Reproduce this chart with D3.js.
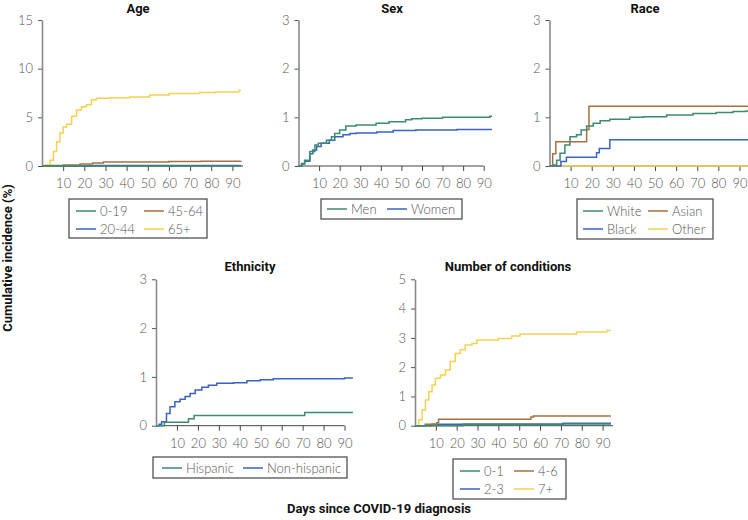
<!DOCTYPE html>
<html>
<head>
<meta charset="utf-8">
<script src="https://cdn.jsdelivr.net/npm/d3@7"></script>
<style>
  body { margin: 0; background: #fff; }
  svg { display: block; }
  .tick text { font-family: Lato, sans-serif; font-weight: 300; font-size: 13px; fill: #555; }
  .title { font-family: Roboto, sans-serif; font-weight: 700; font-size: 13px; fill: #111; }
  .legend text { font-family: Lato, sans-serif; font-weight: 300; font-size: 13px; fill: #555; }
</style>
</head>
<body>
<svg id="chart" width="748" height="520"></svg>
<script>
// ---- data: [day, cumulative incidence %] step points ----
const age0_19  = [[0, 0], [94, 0]];
const age20_44 = [[0, 0], [6, 0.03], [25, 0.05], [94, 0.05]];
const age45_64 = [[0, 0], [4, 0.05], [10, 0.1], [18, 0.2], [24, 0.3], [29, 0.4], [60, 0.45], [75, 0.5], [94, 0.52]];
const age65    = [[0, 0], [1.5, 0.1], [3.8, 0.6], [5.4, 1.5], [6.9, 2.5], [8.5, 3.4], [10, 4.0], [11.6, 4.3], [14, 5.1],
                  [16.3, 5.75], [18.7, 6.1], [21, 6.3], [23.4, 6.8], [25.8, 6.95], [32, 7.0], [41.5, 7.1], [50.9, 7.3],
                  [60, 7.45], [74.5, 7.55], [82, 7.6], [93, 7.75], [94, 7.75]];

const sexMen   = [[0, 0], [1.5, 0.05], [3, 0.12], [5.5, 0.3], [8, 0.43], [9.6, 0.47], [13.6, 0.53], [16, 0.6], [17.6, 0.67],
                  [20, 0.74], [23, 0.82], [28, 0.84], [37.7, 0.88], [44, 0.91], [52, 0.95], [55, 0.97], [60, 0.98],
                  [70, 1.0], [93, 1.02], [94, 1.02]];
const sexWomen = [[0, 0], [1.5, 0.04], [3, 0.1], [5.5, 0.25], [7, 0.33], [8.8, 0.4], [11, 0.47], [15, 0.53], [17.6, 0.6],
                  [21.6, 0.64], [25, 0.67], [28, 0.68], [38, 0.7], [46, 0.73], [57, 0.74], [77, 0.75], [94, 0.75]];

const raceWhite = [[0, 0], [1.8, 0.02], [3.4, 0.12], [5, 0.26], [7.3, 0.43], [9.7, 0.6], [12.8, 0.64], [15, 0.74],
                   [17.6, 0.82], [20.7, 0.88], [24, 0.93], [28.6, 0.96], [38, 1.0], [44.5, 1.01], [55.5, 1.05],
                   [68, 1.08], [79, 1.1], [87, 1.12], [93, 1.13], [95, 1.13]];
const raceAsian = [[0, 0], [1.5, 0.25], [3, 0.5], [17.6, 0.75], [18.7, 1.23], [95, 1.23]];
const raceBlack = [[0, 0], [5.4, 0.09], [8, 0.18], [22.3, 0.27], [23.6, 0.36], [28.6, 0.54], [95, 0.54]];
const raceOther = [[0, 0], [95, 0]];

const ethHispanic    = [[0, 0], [4, 0.07], [15.5, 0.14], [18.2, 0.21], [71, 0.27], [94, 0.27]];
const ethNonHispanic = [[0, 0], [1.5, 0.03], [2.7, 0.08], [5, 0.25], [6.7, 0.39], [9, 0.49], [11.5, 0.54], [13.9, 0.6],
                        [16.3, 0.66], [18.7, 0.73], [21.9, 0.79], [25, 0.83], [29, 0.87], [37, 0.88], [43.4, 0.92],
                        [49.8, 0.94], [56, 0.96], [78, 0.96], [90, 0.98], [94, 0.98]];

const cond0_1 = [[0, 0], [23, 0.03], [71, 0.06], [94, 0.06]];
const cond2_3 = [[0, 0], [8, 0.05], [23, 0.06], [71, 0.08], [94, 0.08]];
const cond4_6 = [[0, 0], [4.9, 0.05], [10.5, 0.1], [11.3, 0.22], [55.6, 0.3], [56.8, 0.33], [94, 0.33]];
const cond7   = [[0, 0], [1.8, 0.2], [3.4, 0.54], [5, 0.88], [6.6, 1.16], [8.2, 1.39], [9.8, 1.62], [12.2, 1.73],
                 [14.6, 1.9], [16.9, 2.19], [19.3, 2.47], [21.7, 2.59], [24.1, 2.76], [27.3, 2.81], [29.7, 2.93],
                 [38.5, 2.93], [40, 2.98], [46.4, 3.06], [50.4, 3.13], [75, 3.13], [77.5, 3.2], [92, 3.25], [94, 3.25]];

const xTicks = [10, 20, 30, 40, 50, 60, 70, 80, 90];

const green = "#3b8b6e", blue = "#3a62c2", brown = "#a5703f", yellow = "#f4d250";

// ---- panel layout ----
const panels = [
  { title: "Age", tx: 138, ty: 13, x: [42, 243], y: [166, 20], yMax: 15, yTicks: [0, 5, 10, 15], axisEnd: 95,
    series: [
      { name: "0-19", data: age0_19, color: green, c: 0, r: 0 },
      { name: "45-64", data: age45_64, color: brown, c: 1, r: 0 },
      { name: "20-44", data: age20_44, color: blue, c: 0, r: 1 },
      { name: "65+", data: age65, color: yellow, c: 1, r: 1 }],
    legend: { x: 69, y: 199, w: 138, h: 39, cols: [76, 144], rows: [211, 229] } },
  { title: "Sex", tx: 392, ty: 13, x: [298.5, 494], y: [166, 20], yMax: 3, yTicks: [0, 1, 2, 3], axisEnd: 90,
    series: [
      { name: "Men", data: sexMen, color: green, c: 0, r: 0 },
      { name: "Women", data: sexWomen, color: blue, c: 1, r: 0 }],
    legend: { x: 321, y: 199, w: 141, h: 20, cols: [327, 387], rows: [209] } },
  { title: "Race", tx: 645, ty: 13, x: [549.5, 750], y: [166, 20], yMax: 3, yTicks: [0, 1, 2, 3], axisEnd: 95,
    series: [
      { name: "White", data: raceWhite, color: green, c: 0, r: 0 },
      { name: "Asian", data: raceAsian, color: brown, c: 1, r: 0 },
      { name: "Black", data: raceBlack, color: blue, c: 0, r: 1 },
      { name: "Other", data: raceOther, color: yellow, c: 1, r: 1 }],
    legend: { x: 577, y: 199, w: 136, h: 40, cols: [583, 648], rows: [211, 229] } },
  { title: "Ethnicity", tx: 250, ty: 271, x: [156, 355], y: [425.7, 279.3], yMax: 3, yTicks: [0, 1, 2, 3], axisEnd: 90,
    series: [
      { name: "Hispanic", data: ethHispanic, color: green, c: 0, r: 0 },
      { name: "Non-hispanic", data: ethNonHispanic, color: blue, c: 1, r: 0 }],
    legend: { x: 153, y: 457, w: 194, h: 21, cols: [162, 243], rows: [468] } },
  { title: "Number of conditions", tx: 508, ty: 271, x: [415, 613], y: [425.7, 279.3], yMax: 5, yTicks: [0, 1, 2, 3, 4, 5], axisEnd: 95,
    series: [
      { name: "0-1", data: cond0_1, color: green, c: 0, r: 0 },
      { name: "4-6", data: cond4_6, color: brown, c: 1, r: 0 },
      { name: "2-3", data: cond2_3, color: blue, c: 0, r: 1 },
      { name: "7+", data: cond7, color: yellow, c: 1, r: 1 }],
    legend: { x: 453, y: 459, w: 113, h: 40, cols: [460, 514], rows: [471, 489] } }
];

const svg = d3.select("#chart");

panels.forEach(p => {
  const x = d3.scaleLinear().domain([0, 95]).range(p.x);
  const y = d3.scaleLinear().domain([0, p.yMax]).range(p.y);
  const g = svg.append("g");

  // title
  g.append("text").attr("class", "title")
    .attr("x", p.tx).attr("y", p.ty)
    .attr("text-anchor", "middle")
    .text(p.title);

  // x axis
  const xa = g.append("g")
    .attr("transform", `translate(0,${p.y[0]})`)
    .call(d3.axisBottom(x).tickValues(xTicks).tickSize(5).tickPadding(8).tickSizeOuter(0));
  xa.select(".domain").attr("d", `M${x(0)},0H${x(p.axisEnd)}`).attr("stroke", "#444");
  xa.selectAll(".tick line").attr("stroke", "#444");

  // y axis
  const ya = g.append("g")
    .attr("transform", `translate(${x(0)},0)`)
    .call(d3.axisLeft(y).tickValues(p.yTicks).tickFormat(d3.format("d")).tickSize(4).tickPadding(5).tickSizeOuter(0));
  ya.select(".domain").attr("stroke", "#8a8a8a").attr("stroke-width", 1.6);
  ya.selectAll(".tick line").attr("stroke", "#555");

  // curves (drawn in reverse so first series sits on top like the original)
  const line = d3.line().x(d => x(d[0])).y(d => y(d[1])).curve(d3.curveStepAfter);
  p.series.slice().reverse().forEach(s => {
    g.append("path")
      .datum(s.data)
      .attr("d", line)
      .attr("fill", "none")
      .attr("stroke", s.color)
      .attr("stroke-width", 1.5);
  });

  // legend
  const L = p.legend;
  const lg = g.append("g").attr("class", "legend");
  lg.append("rect")
    .attr("x", L.x).attr("y", L.y).attr("width", L.w).attr("height", L.h)
    .attr("fill", "#fff").attr("stroke", "#444").attr("stroke-width", 1.2);
  p.series.forEach(s => {
    const lx = L.cols[s.c], ly = L.rows[s.r];
    lg.append("line")
      .attr("x1", lx).attr("x2", lx + 20).attr("y1", ly).attr("y2", ly)
      .attr("stroke", s.color).attr("stroke-width", 1.5);
    lg.append("text")
      .attr("x", lx + 24).attr("y", ly)
      .attr("dy", "0.35em")
      .text(s.name);
  });
});

// shared axis titles
svg.append("text").attr("class", "title")
  .attr("transform", "translate(12,258) rotate(-90)")
  .attr("text-anchor", "middle")
  .text("Cumulative incidence (%)");

svg.append("text").attr("class", "title")
  .attr("x", 379).attr("y", 513)
  .attr("text-anchor", "middle")
  .text("Days since COVID-19 diagnosis");
</script>
</body>
</html>
